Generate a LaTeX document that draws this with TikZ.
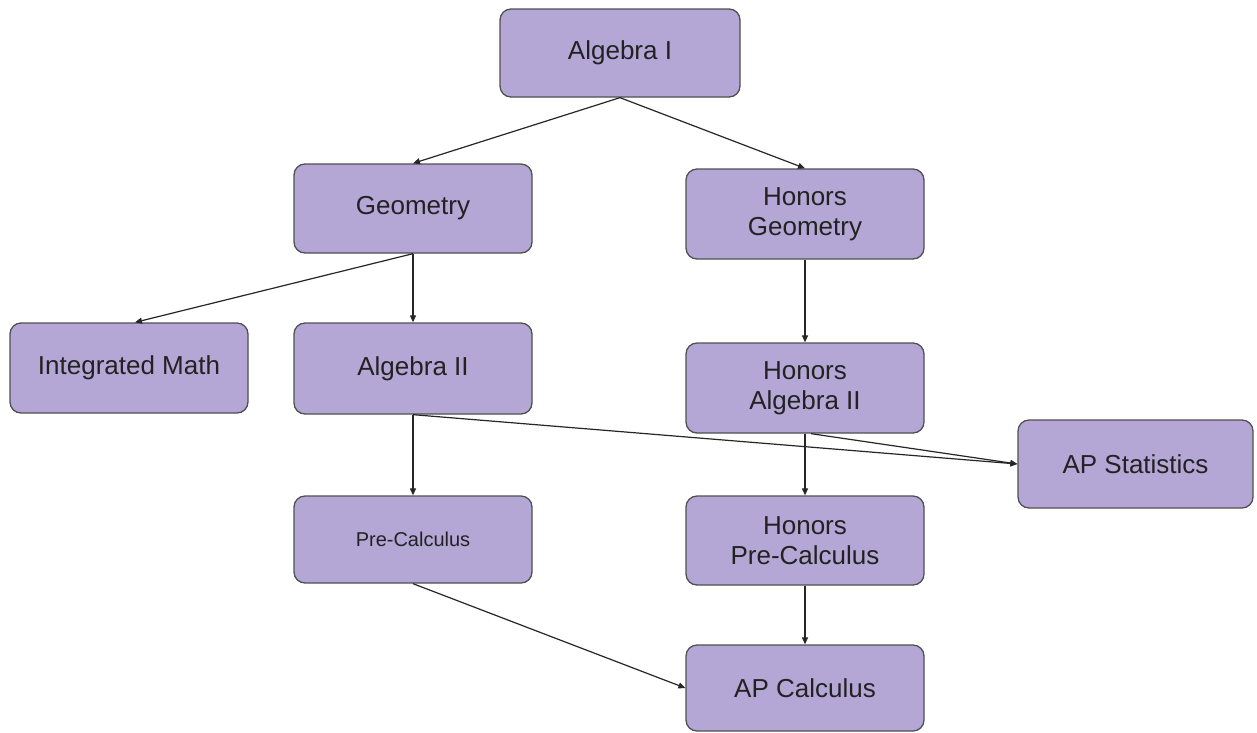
\documentclass[tikz,border=0pt]{standalone}
\usepackage{fontspec}
\setmainfont{Liberation Sans}
\usetikzlibrary{arrows.meta}
\definecolor{boxfill}{HTML}{B4A7D6}
\definecolor{boxline}{HTML}{505050}
\definecolor{txt}{HTML}{222222}
\tikzset{
  course/.style={draw=boxline, line width=1.3pt, fill=boxfill, rounded corners=11pt,
    minimum width=238pt, minimum height=89pt, inner sep=0pt, align=center,
    text=txt, font=\fontsize{26}{30}\selectfont},
  conn/.style={draw=black!85, line width=1.2pt, -{Triangle[length=7pt,width=6pt]}, shorten >=0pt}
}
\begin{document}
\begin{tikzpicture}[x=1pt,y=-1pt]
\path[use as bounding box, fill=white] (0,0) rectangle (1257,732);
\node[course, minimum width=240pt, minimum height=88pt] (a1) at (620,53) {Algebra I};
\node[course] (geo) at (413,208.5) {Geometry};
\node[course, minimum height=90pt] (hgeo) at (805,214) {Honors\\Geometry};
\node[course, minimum height=90pt] (im) at (129,368) {Integrated Math};
\node[course, minimum height=91pt] (a2) at (413,368.5) {Algebra II};
\node[course, minimum height=90pt] (ha2) at (805,388) {Honors\\Algebra II};
\node[course, minimum width=235pt, minimum height=88pt] (aps) at (1135.5,464) {AP Statistics};
\node[course, minimum height=87pt, font=\fontsize{20}{24}\selectfont] (pc) at (413,539.5) {Pre-Calculus};
\node[course] (hpc) at (805,540.5) {Honors\\Pre-Calculus};
\node[course, minimum height=86pt] (apc) at (805,688) {AP Calculus};

\draw[conn] (a1.south) -- (geo.north);
\draw[conn] (a1.south) -- (hgeo.north);
\draw[conn] (geo.south) -- ([xshift=6pt]im.north);
\draw[conn] (geo.south) -- (a2.north);
\draw[conn] (hgeo.south) -- (ha2.north);
\draw[conn] (a2.south) -- (aps.west);
\draw[conn] ([xshift=6pt]ha2.south) -- (aps.west);
\draw[conn] (a2.south) -- (pc.north);
\draw[conn] (ha2.south) -- (hpc.north);
\draw[conn] (pc.south) -- (apc.west);
\draw[conn] (hpc.south) -- (apc.north);
\end{tikzpicture}
\end{document}
